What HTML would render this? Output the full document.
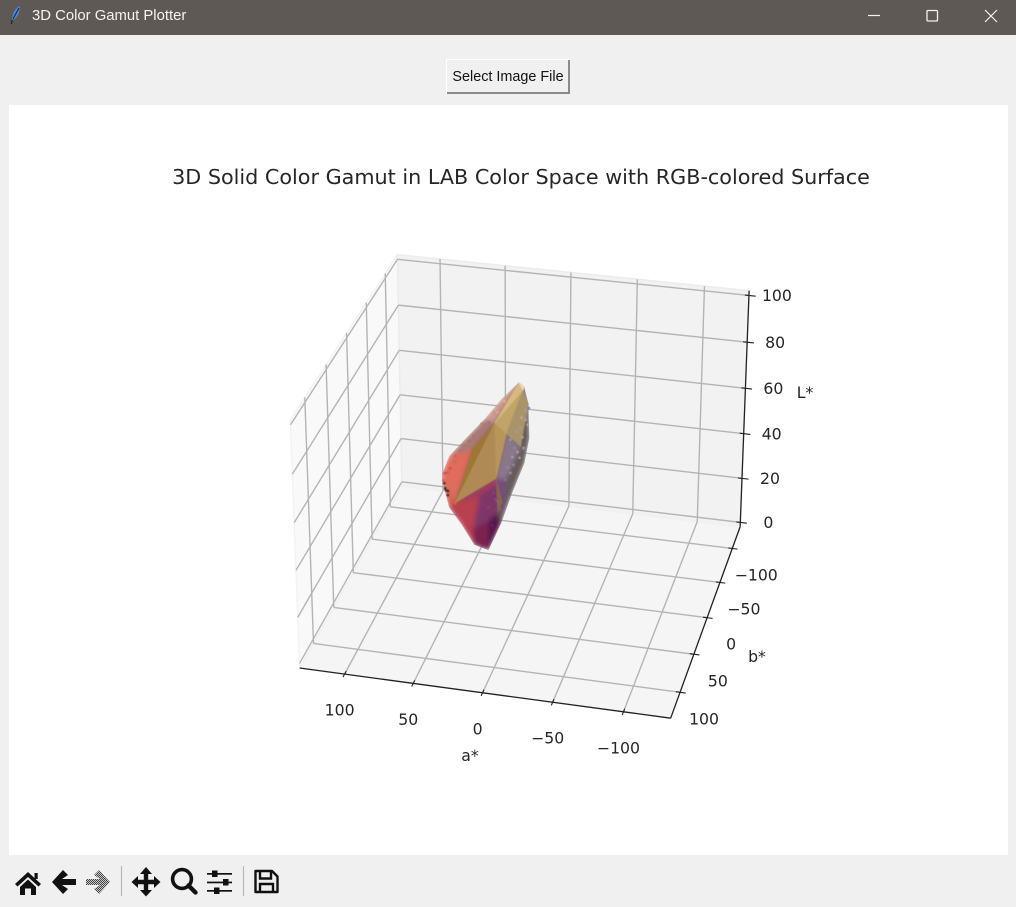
<!DOCTYPE html>
<html lang="en">
<head>
<meta charset="utf-8">
<title>3D Color Gamut Plotter</title>
<style>
html,body{margin:0;padding:0;width:1016px;height:907px;overflow:hidden;background:#f0f0f0}
#titlebar{position:absolute;left:0;top:0;width:1016px;height:35px;background:#5e5955}
#window-title{position:absolute;left:32px;top:7px;font:14.85px/18px "Liberation Sans",sans-serif;color:#f4f4f4}
#figure{position:absolute;left:9px;top:105px;width:999px;height:750px;background:#fff}
#select-btn{position:absolute;left:446px;top:59px;width:124px;height:35px;padding:0;margin:0;background:#f0f0f0;border:0;
 box-shadow:inset 1px 1px 0 #fff,inset -2px -2px 0 #8a8a8a;font:14.4px "Liberation Sans",sans-serif;color:#111}
#chart{position:absolute;left:0;top:0;width:1016px;height:907px;filter:blur(.35px)}
#chrome{position:absolute;left:0;top:0;width:1016px;height:907px;pointer-events:none}
#chrome .hit{pointer-events:auto}
#chart text{font-family:"DejaVu Sans",sans-serif;fill:#262626}
</style>
</head>
<body>
<div id="titlebar">
  <div id="window-title">3D Color Gamut Plotter</div>
</div>
<div id="figure"></div>
<button id="select-btn">Select Image File</button>

<svg id="chart" viewBox="0 0 1016 907"></svg>

<svg id="chrome" viewBox="0 0 1016 907">
  <defs>
    <pattern id="dither" width="2" height="2" patternUnits="userSpaceOnUse">
      <rect width="2" height="2" fill="#c8c8c8"/><rect width="1" height="1" fill="#444"/><rect x="1" y="1" width="1" height="1" fill="#444"/>
    </pattern>
  </defs>
  <g>
    <path d="M20 6 C15 8 12 14 12 20 L15 19 C18 16 20 11 20 6Z" fill="#4f86d8"/>
    <path d="M12 20 L11.5 24" stroke="#222" stroke-width="1.2"/>
    <path d="M19 8 L13 19" stroke="#123" stroke-width="1"/>
  </g>
  <g class="hit"><path d="M868 15.5H880" stroke="#f2f2f2" stroke-width="1.2"/></g>
  <g class="hit"><rect x="927" y="10.5" width="10.5" height="10.5" rx="1" fill="none" stroke="#f2f2f2" stroke-width="1.3"/></g>
  <g class="hit"><path d="M985 10L997 22M997 10L985 22" stroke="#f2f2f2" stroke-width="1.2"/></g>

  <g class="hit" fill="#111">
    <path d="M28 872 L41 884 L38.5 886.5 L28 877 L17.5 886.5 L15 884Z"/>
    <path d="M20 887 L28 879.5 L36 887 V895 H31 V888.5 H25 V895 H20Z"/>
    <rect x="34.5" y="873" width="3.2" height="6"/>
  </g>
  <g class="hit">
    <path d="M52 882 L63 870 L68 875 L62 879 H76 V885 H62 L68 889 L63 894Z" fill="#111"/>
  </g>
  <g class="hit">
    <path d="M110 882 L99 870 L94 875 L100 879 H86 V885 H100 L94 889 L99 894Z" fill="url(#dither)"/>
  </g>
  <path d="M121.5 866V896" stroke="#b9b9b9" stroke-width="1.2"/>
  <g class="hit" fill="#111">
    <path d="M146 867 L152 874 H148.2 V879.8 H154 V876 L160.5 882 L154 888 V884.2 H148.2 V890 H152 L146 896.5 L140 890 H143.8 V884.2 H138 V888 L131.5 882 L138 876 V879.8 H143.8 V874 H140Z"/>
  </g>
  <g class="hit" fill="none" stroke="#111">
    <circle cx="182" cy="879" r="9.4" stroke-width="3.6"/>
    <path d="M188.5 885.5L195.5 892.5" stroke-width="4.4" stroke-linecap="round"/>
  </g>
  <g class="hit" fill="#111">
    <rect x="207" y="873" width="25" height="1.7"/><rect x="207" y="881.6" width="25" height="1.7"/><rect x="207" y="890" width="25" height="1.7"/>
    <rect x="212" y="870.5" width="5.5" height="6.5"/><rect x="223" y="879" width="5.5" height="6.5"/><rect x="214" y="887.5" width="5.5" height="6.5"/>
  </g>
  <path d="M243.5 866V896" stroke="#b9b9b9" stroke-width="1.2"/>
  <g class="hit" fill="none" stroke="#111" stroke-width="2.4">
    <path d="M255.5 871 H272 L277.5 876.5 V892 H255.5Z" stroke-linejoin="round"/>
    <path d="M260 871 V878.5 H271 V871"/>
    <path d="M260 892 V884 H273 V892"/>
  </g>
</svg>

<script>
// ---- axis limits and tick values ----
const aHigh = 133;
const aLow = -133;
const bHigh = 133;
const bLow = -133;
const lHigh = 102;
const lLow = -2;
const aTicks = [100, 50, 0, -50, -100];
const bTicks = [-100, -50, 0, 50, 100];
const lTicks = [0, 20, 40, 60, 80, 100];

// ---- gamut hull vertices (a*, b*, L*) ----
const vertA = [6.8,4.1,2.3,2.75,7.6,17.1,25.9,35.2,41.5,49.6,57.5,61.3,60.8,55.1,44.6,29.2,17.6,52.7,36.4,18.1,16,2.6,10.9,33.5,42.5,18,37.3,8,21,22,25.5];
const vertB = [0,-5,-10,-15,-20,-22,-24,-22,-5,0,5,8,10,12,12,10,5,6,18,25,30,5,20,-18,-8,-5,-5,-10,-12,-12,-12];
const vertL = [89.3,86.4,77.8,62,49.5,35.4,20.9,8.6,15.7,25.6,34,45.3,50.1,58.3,65.4,75.3,83.4,36.6,64,78.5,56.6,87.6,72.9,22.9,22.1,45.9,37.4,59.3,28,33.8,28.9];

// ---- hull outline and faces: vertex indices and RGB surface colours ----
const outlineVerts = [0,1,2,3,4,5,6,7,8,9,10,11,12,13,14,15,16];
const softFaceVerts = [
  [0,1,2,3,4,5,6,7,8,9,10,11,12,13,14,15,16],
  [16,15,14,13,18,19,0],
  [0,16,15,19],
  [13,12,11,17,18],
  [11,10,17],
  [10,9,24,26,17],
  [17,26,25,20],
  [9,8,24],
  [24,8,7,23],
  [26,24,23,30,29,25],
  [23,7,6,30],
  [1,2,3,4,5,6,30,29,25,20,22,21],
  [22,27,25,20],
  [25,28,29,20]
];
const softFaceColors = ['#8a5a68','#a87a74','#c99a8c','#df6c5c','#d45c4c','#b9404f','#a03a5c','#b03a50','#7c2450','#7f3568','#541848','#665a5a','#8a788a','#75507f'];
const sharpFaceVerts = [
  [20,29,30],
  [17,18,19],
  [17,19,20],
  [19,22,20],
  [19,21,22],
  [19,0,21],
  [21,2,27,22],
  [0,1,21]
];
const sharpFaceColors = ['#8a6648','#a07636','#b08a54','#b89558','#c0a468','#d8b880','#a89468','#efe0b8'];

// ---- scattered gamut samples ----
const pointA = [5.5,5.5,9.3,7.8,11.5,11.5,15.3,14.5,16.8,20.5,24.3,29.5,26.5,33.3,24.3,37.8,30.3,3.2,4,7,10,59,57.5,51.5,47.8,55.5,26.5,20.5,34.2,41.5,60.5,59.5,57.5,52.7,12.3,8.5,13.8,18.3,20.5,22.8,28,32,37,16.8,52,45.5,38,32,23,15.4,57.5,59.5,60];
const pointB = [-15,-15,-15,-15,-15,-15,-15,-15,-15,-15,-15,-15,-15,-15,-15,-15,-15,-15,-15,-15,-15,8,8,8,8,8,8,8,8,8,8,8,8,6,-15,-15,-15,-15,-15,-15,-15,-15,-15,-15,8,8,8,8,8,8,8,8,8];
const pointL = [73.7,69.5,65.8,62,59.6,55.4,53,49.6,46,42.8,39.5,36.5,33,29.9,29.7,25.7,22,74.7,67.5,57.4,53,42.3,42,57.5,59.9,51.9,73.4,78.1,68.5,64.5,46.4,49.5,40.2,36.6,64,70.3,57,48.2,47.2,36.3,33.8,25,31,60.3,55,62.5,67,72.5,77.8,83,50,43,45.2];
const pointColors = ['#a898b0','#b8a0a8','#a898b0','#b8a0a8','#9888a8','#b8a0a8','#a898b0','#9888a8','#a890b0','#8a70a0','#7a4a8a','#7a4a8a','#8a6098','#7a4a8a','#7f5a8a','#7a3a7a','#6a2a70','#6f78b0','#b8a8b0','#b0a0b0','#a898b0','#4a2a2a','#3e2422','#d05a58','#c8606a','#c85050','#a87070','#e0a898','#a87474','#b06a68','#e0505a','#c84a50','#4a2a2a','#d07020','#a898b0','#b8a8b0','#9888a8','#9888a8','#8a70a0','#7a4a8a','#7a4a8a','#6a2a70','#7a3a7a','#a898b0','#c8606a','#a87474','#a87070','#b07878','#c89088','#e0b0a0','#d85060','#3e2422','#4a2a2a'];

// ---- projection calibration: where known data locations sit on screen ----
const anchorData = [
  [aHigh,bHigh,lLow],[aLow,bHigh,lLow],[aLow,bLow,lLow],[aHigh,bLow,lLow],[aHigh,bHigh,lHigh],[aLow,bLow,lHigh],[aHigh,bLow,lHigh],
  [100,bHigh,lLow],[50,bHigh,lLow],[0,bHigh,lLow],[-50,bHigh,lLow],[-100,bHigh,lLow],
  [aLow,-100,lLow],[aLow,-50,lLow],[aLow,0,lLow],[aLow,50,lLow],[aLow,100,lLow],
  [aLow,bLow,0],[aLow,bLow,20],[aLow,bLow,40],[aLow,bLow,60],[aLow,bLow,80],[aLow,bLow,100]
];
const anchorScreen = [
  [300,667],[671,717],[740,527],[403,486],[291,421],[749,291],[397,254],
  [343,674],[413,684],[482,693],[553,703],[623,712],
  [732,549],[720,583],[708,618],[695,653],[680,692],
  [740,523],[741.5,478],[743,434],[746,388],[747,342],[749,295]
];

function solve(M, v) {
  const n = v.length;
  for (let i = 0; i < n; i++) {
    let p = i;
    for (let r = i + 1; r < n; r++) if (Math.abs(M[r][i]) > Math.abs(M[p][i])) p = r;
    [M[i], M[p]] = [M[p], M[i]];
    [v[i], v[p]] = [v[p], v[i]];
    for (let r = i + 1; r < n; r++) {
      const f = M[r][i] / M[i][i];
      for (let c = i; c < n; c++) M[r][c] -= f * M[i][c];
      v[r] -= f * v[i];
    }
  }
  const s = new Array(n).fill(0);
  for (let i = n - 1; i >= 0; i--) {
    let t = v[i];
    for (let c = i + 1; c < n; c++) t -= M[i][c] * s[c];
    s[i] = t / M[i][i];
  }
  return s;
}
function fitCamera() {
  const N = Array.from({length: 11}, () => new Array(11).fill(0));
  const R = new Array(11).fill(0);
  anchorData.forEach((d, i) => {
    const x = d[0] / 100, y = d[1] / 100, z = d[2] / 100;
    const u = anchorScreen[i][0] / 1000, w = anchorScreen[i][1] / 1000;
    const rows = [
      [[x,y,z,1,0,0,0,0,-u*x,-u*y,-u*z], u],
      [[0,0,0,0,x,y,z,1,-w*x,-w*y,-w*z], w]
    ];
    rows.forEach(([r, t]) => {
      for (let a = 0; a < 11; a++) {
        R[a] += r[a] * t;
        for (let b = 0; b < 11; b++) N[a][b] += r[a] * r[b];
      }
    });
  });
  return solve(N, R);
}
const cam = fitCamera();
function project(a, b, l) {
  const x = a / 100, y = b / 100, z = l / 100;
  const d = cam[8]*x + cam[9]*y + cam[10]*z + 1;
  return [1000 * (cam[0]*x + cam[1]*y + cam[2]*z + cam[3]) / d,
          1000 * (cam[4]*x + cam[5]*y + cam[6]*z + cam[7]) / d];
}

const svg = document.getElementById('chart');
const NS = 'http://www.w3.org/2000/svg';
function make(tag, attrs, parent) {
  const el = document.createElementNS(NS, tag);
  for (const k in attrs) el.setAttribute(k, attrs[k]);
  (parent || svg).appendChild(el);
  return el;
}
function pointsAttr(pts) {
  return pts.map(p => p[0].toFixed(2) + ',' + p[1].toFixed(2)).join(' ');
}
function poly(pts, attrs, parent) {
  return make('polygon', Object.assign({points: pointsAttr(pts)}, attrs), parent);
}
function seg(p, q, stroke, width, parent) {
  return make('line', {x1: p[0], y1: p[1], x2: q[0], y2: q[1], stroke: stroke, 'stroke-width': width}, parent);
}
function label(x, y, str, parent) {
  const el = make('text', {x: x, y: y, 'text-anchor': 'middle', 'font-size': 15.7}, parent);
  el.textContent = str;
  return el;
}
function tickText(v) { return String(v).replace('-', '\u2212'); }
function vertexPoint(k) { return project(vertA[k], vertB[k], vertL[k]); }

// panes
const leftPane = poly([project(aHigh,bHigh,lLow),project(aHigh,bLow,lLow),project(aHigh,bLow,lHigh),project(aHigh,bHigh,lHigh)], {fill:'#f9f9f9', stroke:'#f3f3f3', 'stroke-width':1.5});


const backPane = poly([project(aHigh,bLow,lLow),project(aLow,bLow,lLow),project(aLow,bLow,lHigh),project(aHigh,bLow,lHigh)], {fill:'#f2f2f2', stroke:'#ececec', 'stroke-width':1.5});


const floorPane = poly([project(aHigh,bHigh,lLow),project(aLow,bHigh,lLow),project(aLow,bLow,lLow),project(aHigh,bLow,lLow)], {fill:'#f5f5f5', stroke:'#f0f0f0', 'stroke-width':1.5});



// grid
const gridColor = '#b4b4b4';
const gridWidth = 1.4;
const gridGroup = make('g', {fill:'none'});


aTicks.forEach(v => {
  seg(project(v,bHigh,lLow), project(v,bLow,lLow), gridColor, gridWidth, gridGroup);
  seg(project(v,bLow,lLow), project(v,bLow,lHigh), gridColor, gridWidth, gridGroup);
});
bTicks.forEach(v => {
  seg(project(aLow,v,lLow), project(aHigh,v,lLow), gridColor, gridWidth, gridGroup);
  seg(project(aHigh,v,lLow), project(aHigh,v,lHigh), gridColor, gridWidth, gridGroup);
});
lTicks.forEach(v => {
  seg(project(aLow,bLow,v), project(aHigh,bLow,v), gridColor, gridWidth, gridGroup);
  seg(project(aHigh,bLow,v), project(aHigh,bHigh,v), gridColor, gridWidth, gridGroup);
});

// axis lines
const aAxisLine = seg(project(aHigh,bHigh,lLow), project(aLow,bHigh,lLow), '#222', 1.3);


const bAxisLine = seg(project(aLow,bHigh,lLow), project(aLow,bLow,lLow), '#222', 1.3);


const lAxisLine = seg(project(aLow,bLow,lLow), project(aLow,bLow,lHigh), '#222', 1.3);



// ticks and labels
aTicks.forEach(v => {
  const t = seg(project(v,bHigh+4,lLow), project(v,bHigh-4,lLow), '#222', 1.1);
  
  
  const p = project(v,bHigh,lLow);
  const txt = label(p[0]-5, p[1]+41.5, tickText(v));
  
  
});
bTicks.forEach(v => {
  const t = seg(project(aLow-4,v,lLow), project(aLow+3,v,lLow), '#222', 1.1);
  
  
  const p = project(aLow,v,lLow);
  const txt = label(p[0]+24, p[1]+32, tickText(v));
  
  
});
lTicks.forEach(v => {
  const t = seg(project(aLow-5,bLow,v), project(aLow+3,bLow,v), '#222', 1.1);
  
  
  const p = project(aLow,bLow,v);
  const txt = label(p[0]+28, p[1]+5.7, tickText(v));
  
  
});

// axis titles and chart title
const aTitle = label(470, 761, 'a*');


const bTitle = label(757, 662, 'b*');


const lTitle = label(805, 398, 'L*');


const chartTitle = make('text', {x: 521, y: 184, 'text-anchor': 'middle', 'font-size': 20.72});
chartTitle.textContent = '3D Solid Color Gamut in LAB Color Space with RGB-colored Surface';



// gamut surface: blended colour regions clipped to the hull, then crisper facets
const defs = make('defs', {});
const softer = make('filter', {id: 'softer', x: '-20%', y: '-20%', width: '140%', height: '140%'}, defs);
make('feGaussianBlur', {stdDeviation: 2.4}, softer);
const soft = make('filter', {id: 'soft', x: '-10%', y: '-10%', width: '120%', height: '120%'}, defs);
make('feGaussianBlur', {stdDeviation: 0.55}, soft);
const hullClip = make('clipPath', {id: 'hull-clip'}, defs);
poly(outlineVerts.map(vertexPoint), {}, hullClip);

const hullGroup = make('g', {});


const clipGroup = make('g', {'clip-path': 'url(#hull-clip)'}, hullGroup);
const softGroup = make('g', {filter: 'url(#softer)'}, clipGroup);
softFaceVerts.forEach((ids, i) => {
  const face = poly(ids.map(vertexPoint), {fill: softFaceColors[i], stroke: softFaceColors[i], 'stroke-width': 0.6}, softGroup);
  
  
});
const sharpGroup = make('g', {filter: 'url(#soft)'}, hullGroup);
sharpFaceVerts.forEach((ids, i) => {
  const face = poly(ids.map(vertexPoint), {fill: sharpFaceColors[i], stroke: sharpFaceColors[i], 'stroke-width': 0.5}, sharpGroup);
  
  
});
pointA.forEach((a, i) => {
  const p = project(a, pointB[i], pointL[i]);
  const dot = make('circle', {cx: p[0], cy: p[1], r: 1.3, fill: pointColors[i]}, sharpGroup);
  
  
});
</script>
</body>
</html>
